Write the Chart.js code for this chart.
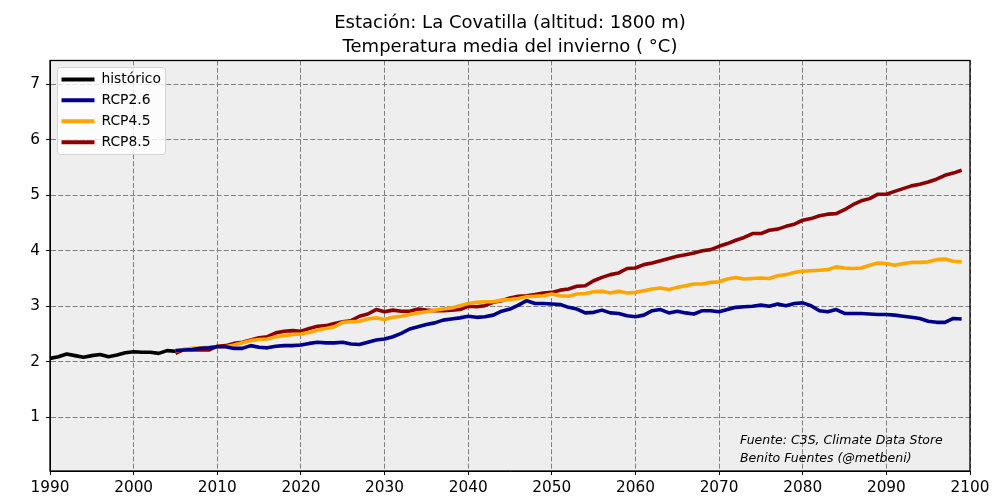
<!DOCTYPE html>
<html>
<head>
<meta charset="utf-8">
<script src="https://cdn.jsdelivr.net/npm/chart.js@4"></script>
<style>
  html, body { margin: 0; padding: 0; background: #fff; }
  canvas { display: block; }
</style>
</head>
<body>
<canvas id="cv" width="1000" height="500"></canvas>
<script>
const FONT = "'DejaVu Sans'";
const titleLines = ["Estación: La Covatilla (altitud: 1800 m)", "Temperatura media del invierno ( °C)"];
const creditLines = ["Fuente: C3S, Climate Data Store", "Benito Fuentes (@metbeni)"];
const xTickStep = 10;
const histStart = 1990, rcpStart = 2005;

const historico = [2.06, 2.09, 2.14, 2.11, 2.08, 2.11, 2.13, 2.09, 2.12, 2.16, 2.18, 2.17, 2.17, 2.15, 2.20, 2.19];
const rcp26 = [2.20, 2.21, 2.22, 2.24, 2.25,
  2.27, 2.27, 2.24, 2.24, 2.29, 2.26, 2.25, 2.28, 2.29, 2.29,
  2.30, 2.33, 2.35, 2.34, 2.34, 2.35, 2.32, 2.31, 2.35, 2.39,
  2.41, 2.45, 2.51, 2.59, 2.63, 2.67, 2.70, 2.75, 2.77, 2.79,
  2.82, 2.80, 2.81, 2.84, 2.91, 2.95, 3.02, 3.10, 3.05, 3.05,
  3.04, 3.03, 2.98, 2.95, 2.88, 2.89, 2.93, 2.88, 2.87, 2.83,
  2.81, 2.84, 2.92, 2.94, 2.88, 2.91, 2.88, 2.86, 2.92, 2.92,
  2.90, 2.94, 2.98, 2.99, 3.00, 3.02, 3.00, 3.04, 3.01, 3.05,
  3.06, 3.01, 2.92, 2.90, 2.94, 2.87, 2.87, 2.87, 2.86, 2.85,
  2.85, 2.84, 2.82, 2.80, 2.78, 2.73, 2.71, 2.71, 2.78, 2.77];
const rcp45 = [2.19, 2.22, 2.24, 2.25, 2.26,
  2.27, 2.27, 2.30, 2.34, 2.38, 2.40, 2.41, 2.45, 2.47, 2.49,
  2.50, 2.53, 2.57, 2.60, 2.63, 2.71, 2.72, 2.73, 2.77, 2.79,
  2.76, 2.80, 2.82, 2.85, 2.88, 2.90, 2.93, 2.95, 2.97, 3.01,
  3.05, 3.07, 3.08, 3.08, 3.11, 3.12, 3.14, 3.17, 3.18, 3.19,
  3.22, 3.19, 3.18, 3.22, 3.23, 3.26, 3.27, 3.24, 3.27, 3.24,
  3.25, 3.28, 3.31, 3.33, 3.30, 3.34, 3.37, 3.40, 3.40, 3.43,
  3.44, 3.49, 3.52, 3.49, 3.50, 3.51, 3.50, 3.55, 3.57, 3.61,
  3.63, 3.64, 3.65, 3.66, 3.71, 3.69, 3.68, 3.69, 3.74, 3.78,
  3.77, 3.74, 3.77, 3.79, 3.79, 3.80, 3.84, 3.85, 3.81, 3.80];
const rcp85 = [2.15, 2.22, 2.21, 2.21, 2.21,
  2.28, 2.29, 2.33, 2.35, 2.39, 2.43, 2.45, 2.52, 2.55, 2.56,
  2.55, 2.60, 2.64, 2.65, 2.69, 2.72, 2.74, 2.82, 2.86, 2.94,
  2.90, 2.93, 2.91, 2.91, 2.95, 2.93, 2.92, 2.92, 2.93, 2.94,
  3.00, 2.99, 3.01, 3.07, 3.10, 3.15, 3.18, 3.19, 3.21, 3.24,
  3.25, 3.29, 3.31, 3.36, 3.37, 3.46, 3.52, 3.57, 3.60, 3.68,
  3.69, 3.75, 3.78, 3.82, 3.86, 3.90, 3.93, 3.96, 4.00, 4.02,
  4.08, 4.13, 4.19, 4.24, 4.31, 4.31, 4.37, 4.39, 4.44, 4.48,
  4.55, 4.58, 4.63, 4.66, 4.67, 4.74, 4.83, 4.90, 4.94, 5.02,
  5.02, 5.07, 5.12, 5.17, 5.20, 5.24, 5.29, 5.36, 5.40, 5.45];

const years = (start, vals) => vals.map((y, i) => ({ x: start + i, y }));
const line = (label, color, start, vals) => ({ label, data: years(start, vals), borderColor: color,
  backgroundColor: color, borderWidth: 3.6, pointRadius: 0, tension: 0, borderJoinStyle: "round" });

// matplotlib-style frame, grey panel, legend box and the credit text
const framePlugin = {
  id: "frame",
  afterInit(chart) {
    // the legend has no background option, and a chartArea legend gets top = 0,
    // so place it and paint its box just before it draws
    const draw = chart.legend.draw;
    chart.legend.draw = function () {
      const c = chart.ctx;
      c.save();
      c.fillStyle = "rgba(255,255,255,0.8)";
      c.strokeStyle = "rgba(204,204,204,0.8)";
      c.lineWidth = 1;
      c.beginPath();
      c.roundRect(57.5, 67.5, 108, 87, 3);
      c.fill();
      c.stroke();
      c.restore();
      this.top = 65.5;
      this.bottom = 65.5 + this.height;
      this.left = 54.5;
      draw.call(this);
    };
  },
  afterLayout(chart) {
    // centre the title over the plot, not over the whole canvas
    chart.titleBlock.left = chart.chartArea.left;
    chart.titleBlock.right = chart.chartArea.right;
  },
  beforeDraw(chart) {
    const a = chart.chartArea, c = chart.ctx;
    c.save();
    c.fillStyle = "#eeeeee";
    c.fillRect(a.left, a.top, a.width, a.height);
    c.restore();
  },
  afterDraw(chart) {
    const a = chart.chartArea, c = chart.ctx;
    c.save();
    c.strokeStyle = "#000";
    c.lineWidth = 1.3;
    c.strokeRect(a.left, a.top, a.width, a.height);
    c.fillStyle = "#000";
    c.font = "italic 12.5px " + FONT;
    c.textBaseline = "middle";
    c.fillText(creditLines[0], 740, 441);
    c.fillText(creditLines[1], 740, 459);
    c.restore();
  }
};

new Chart(document.getElementById("cv"), {
  type: "line",
  data: { datasets: [
    line("histórico", "#000000", histStart, historico),
    line("RCP2.6", "#00008b", rcpStart, rcp26),
    line("RCP4.5", "#ffa500", rcpStart, rcp45),
    line("RCP8.5", "#8b0000", rcpStart, rcp85)
  ] },
  options: {
    responsive: false, animation: false, devicePixelRatio: 1,
    layout: { padding: { left: 0, right: 30, top: 0, bottom: 0 } },
    plugins: {
      tooltip: { enabled: false },
      title: { display: true, text: titleLines, color: "#000",
        font: { family: FONT, size: 18, weight: "normal", lineHeight: 1.333 },
        padding: { top: 11, bottom: 1.5 } },
      legend: { position: "chartArea", align: "start",
        labels: { boxWidth: 33, boxHeight: 4, padding: 7, color: "#000",
          font: { family: FONT, size: 13.9 },
          generateLabels(chart) {
            const items = Chart.defaults.plugins.legend.labels.generateLabels(chart);
            items.forEach(i => { i.lineWidth = 0; });
            return items;
          } } }
    },
    scales: {
      x: { type: "linear", min: 1990, max: 2100,
        afterFit(s) { s.height = 29; },
        grid: { color: "#808080", lineWidth: 1, tickColor: "#000", tickLength: 4, tickBorderDash: [] },
        ticks: { stepSize: xTickStep, color: "#000", maxRotation: 0, padding: 3.5,
          callback: v => String(v), font: { family: FONT, size: 15.3 } },
        border: { color: "#000", dash: [5, 2.2] } },
      y: { min: 0.03, max: 7.43,
        afterFit(s) { s.width = 50; },
        afterBuildTicks(s) { s.ticks = [1, 2, 3, 4, 5, 6, 7].map(value => ({ value })); },
        grid: { color: "#808080", lineWidth: 1, tickColor: "#000", tickLength: 4, tickBorderDash: [] },
        ticks: { stepSize: 1, color: "#000", padding: 6, includeBounds: false,
          callback: v => String(v), font: { family: FONT, size: 15.3 } },
        border: { color: "#000", dash: [5, 2.2] } }
    }
  },
  plugins: [framePlugin]
});
</script>
</body>
</html>
